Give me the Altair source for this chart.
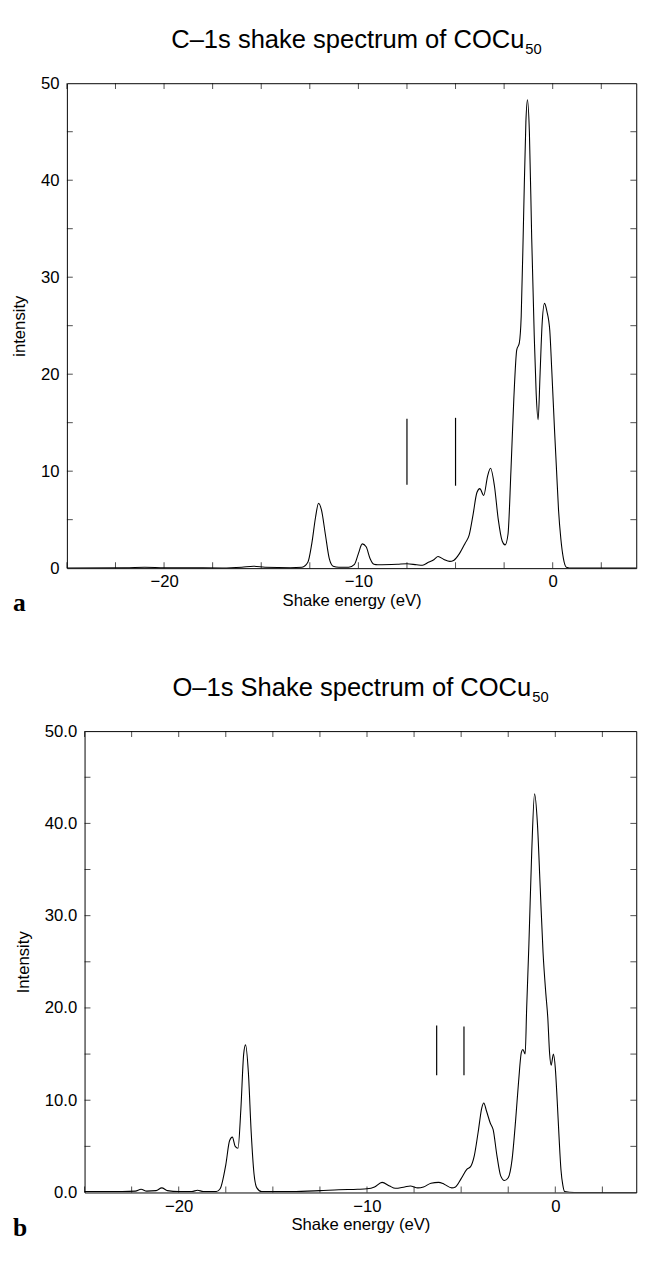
import altair as alt
import pandas as pd

FONT = "Liberation Sans"

# ---------------- panel a : C-1s ----------------
a_energy = [-25.0, -22.0, -21.0, -20.0, -18.0, -17.0, -16.0, -15.4, -14.8, -13.5,
            -12.9, -12.6, -12.4, -12.2, -12.05, -11.9, -11.7, -11.5, -11.3, -11.0,
            -10.5, -10.2, -10.0, -9.8, -9.6, -9.4, -9.2, -9.0, -8.0, -7.5,
            -7.0, -6.7, -6.4, -6.1, -5.9, -5.6, -5.3, -5.1, -4.8, -4.5,
            -4.3, -4.1, -3.9, -3.75, -3.55, -3.35, -3.2, -3.0, -2.8, -2.6,
            -2.45, -2.3, -2.15, -2.0, -1.85, -1.72, -1.62, -1.5, -1.38, -1.3,
            -1.2, -1.08, -0.95, -0.85, -0.75, -0.65, -0.55, -0.42, -0.3, -0.15,
            -0.05, 0.1, 0.2, 0.3, 0.42, 0.55, 0.7, 1.0, 5.0]
a_intensity = [0.02, 0.03, 0.1, 0.05, 0.03, 0.02, 0.1, 0.2, 0.1, 0.05,
               0.1, 0.6, 2.5, 5.3, 6.7, 6.0, 3.5, 1.0, 0.2, 0.1,
               0.1, 0.4, 1.5, 2.5, 2.2, 1.0, 0.4, 0.35, 0.4, 0.45,
               0.35, 0.3, 0.6, 0.9, 1.2, 0.9, 0.7, 0.8, 1.5, 2.6,
               3.4, 5.5, 7.8, 8.2, 7.5, 9.5, 10.3, 8.5, 5.0, 2.8,
               2.4, 3.5, 10.0, 17.5, 22.5, 23.2, 26.0, 36.0, 46.0, 48.3,
               45.0, 34.0, 24.0, 18.0, 15.3, 20.0, 25.0, 27.3, 26.5, 24.5,
               20.5, 14.0, 10.0, 6.0, 3.0, 1.0, 0.1, 0.0, 0.0]
a_marker_x = [-7.5, -5.0]
a_marker_lo = [8.6, 8.5]
a_marker_hi = [15.4, 15.5]

# ---------------- panel b : O-1s ----------------
b_energy = [-25.0, -23.0, -22.3, -22.0, -21.7, -21.2, -20.9, -20.6, -20.0, -19.3,
            -19.0, -18.7, -18.0, -17.8, -17.5, -17.3, -17.15, -17.0, -16.85, -16.7,
            -16.55, -16.45, -16.3, -16.15, -16.0, -15.85, -15.6, -14.0, -12.5, -11.5,
            -10.5, -10.0, -9.6, -9.2, -8.8, -8.5, -8.0, -7.7, -7.3, -7.0,
            -6.6, -6.2, -5.9, -5.5, -5.3, -5.0, -4.7, -4.5, -4.3, -4.1,
            -3.9, -3.8, -3.65, -3.45, -3.3, -3.1, -2.9, -2.7, -2.5, -2.3,
            -2.1, -1.95, -1.8, -1.72, -1.6, -1.52, -1.4, -1.25, -1.1, -0.95,
            -0.8, -0.65, -0.5, -0.4, -0.3, -0.22, -0.1, 0.0, 0.1, 0.2,
            0.3, 0.4, 0.5, 1.0, 5.0]
b_intensity = [0.1, 0.1, 0.15, 0.35, 0.15, 0.2, 0.5, 0.2, 0.1, 0.1,
               0.25, 0.1, 0.1, 0.4, 3.0, 5.6, 6.0, 5.0, 4.8, 9.0,
               15.0, 16.0, 13.0, 6.5, 2.0, 0.5, 0.1, 0.1, 0.2, 0.3,
               0.35, 0.4, 0.6, 1.1, 0.7, 0.45, 0.6, 0.7, 0.5, 0.6,
               1.0, 1.1, 0.9, 0.5, 0.6, 1.5, 2.5, 2.8, 4.0, 6.5,
               9.2, 9.7, 8.8, 7.5, 6.8, 4.0, 1.8, 1.3, 1.6, 3.5,
               8.0, 12.0, 15.2, 15.5, 15.0, 20.0, 27.0, 37.0, 43.2, 40.0,
               33.0, 26.0, 21.5, 19.0, 15.0, 13.8, 15.0, 13.5, 10.0, 6.0,
               2.5, 0.8, 0.1, 0.0, 0.0]
b_marker_x = [-6.3, -4.85]
b_marker_lo = [12.7, 12.7]
b_marker_hi = [18.1, 18.0]

# ---------------- axes ----------------
x_label_values = [-20, -10, 0]
x_tick_values = [-25, -22.5, -20, -17.5, -15, -12.5, -10, -7.5, -5, -2.5, 0, 2.5]
y_label_values = [0, 10, 20, 30, 40, 50]
y_tick_values = [5, 10, 15, 20, 25, 30, 35, 40, 45]


def panel(energy, inten, mx, mlo, mhi, W, H, xl, xmax, ytitle, yfmt,
          title_main, title_end_x, letter, letter_x):
    df = pd.DataFrame({"E": energy, "I": inten})
    xs = alt.Scale(domain=[-25, xmax], range=[xl, W], nice=False, zero=False)
    ys = alt.Scale(domain=[0, 50], nice=False, zero=False)
    lab = dict(labelFont=FONT, labelFontSize=17, labelColor="black",
               titleFont=FONT, titleFontSize=17, titleFontWeight="normal",
               titleColor="black", grid=False, domain=True,
               domainColor="black", domainWidth=1)

    line = alt.Chart(df).mark_line(
        color="black", strokeWidth=1.1, interpolate="monotone", clip=True
    ).encode(
        x=alt.X("E:Q", scale=xs, axis=alt.Axis(
            orient="bottom", values=x_label_values, format="d", ticks=False,
            labelPadding=6, title="Shake energy (eV)", titlePadding=3, **lab)),
        y=alt.Y("I:Q", scale=ys, axis=alt.Axis(
            orient="left", offset=-xl, values=y_label_values, format=yfmt,
            ticks=False, labelPadding=8, title=ytitle, titlePadding=12, **lab)),
    )

    frame_kw = dict(labels=False, ticks=False, grid=False, domain=True,
                    domainColor="black", domainWidth=1, title=None,
                    minExtent=0, maxExtent=0)
    frame = alt.Chart(df).mark_line(opacity=0).encode(
        x=alt.X("E:Q", scale=xs, axis=alt.Axis(orient="top", **frame_kw)),
        y=alt.Y("I:Q", scale=ys, axis=alt.Axis(orient="right", **frame_kw)),
    )

    # inward-pointing frame ticks
    xt = pd.DataFrame({"v": x_tick_values})
    yt = pd.DataFrame({"v": y_tick_values})
    tk = dict(color="black", size=6, thickness=1)
    xt_bottom = alt.Chart(xt).mark_tick(**tk).encode(
        x=alt.X("v:Q", scale=xs, axis=None), y=alt.value(H - 3))
    xt_top = alt.Chart(xt).mark_tick(**tk).encode(
        x=alt.X("v:Q", scale=xs, axis=None), y=alt.value(3))
    yt_left = alt.Chart(yt).mark_tick(**tk).encode(
        y=alt.Y("v:Q", scale=ys, axis=None), x=alt.value(xl + 3))
    yt_right = alt.Chart(yt).mark_tick(**tk).encode(
        y=alt.Y("v:Q", scale=ys, axis=None), x=alt.value(W - 3))

    mdf = pd.DataFrame({"E": mx, "lo": mlo, "hi": mhi})
    markers = alt.Chart(mdf).mark_rule(color="black", strokeWidth=1.2).encode(
        x=alt.X("E:Q", scale=xs, axis=None),
        y=alt.Y("lo:Q", scale=ys, axis=None),
        y2="hi:Q")

    tdf = pd.DataFrame({"t": [title_main], "s": ["50"], "l": [letter]})
    title = alt.Chart(tdf).mark_text(
        font=FONT, fontSize=26, align="right", baseline="alphabetic", color="black"
    ).encode(x=alt.value(title_end_x), y=alt.value(-36), text="t:N")
    sub = alt.Chart(tdf).mark_text(
        font=FONT, fontSize=15, align="left", baseline="alphabetic", color="black"
    ).encode(x=alt.value(title_end_x + 1), y=alt.value(-30), text="s:N")
    let = alt.Chart(tdf).mark_text(
        font="Liberation Serif", fontSize=26, fontWeight="bold", align="left",
        baseline="alphabetic", color="black"
    ).encode(x=alt.value(letter_x), y=alt.value(H + 44), text="l:N")

    return alt.layer(line, frame, xt_bottom, xt_top, yt_left, yt_right, markers,
                     title, sub, let).resolve_axis(
        x="independent", y="independent"
    ).properties(width=W, height=H)


pa = panel(a_energy, a_intensity, a_marker_x, a_marker_lo, a_marker_hi,
           580, 494, 0, 4.3, "intensity", "d",
           "C\u20131s shake spectrum of COCu", 466, "a", -55)
pb = panel(b_energy, b_intensity, b_marker_x, b_marker_lo, b_marker_hi,
           580, 470, 18, 4.3, "Intensity", ".1f",
           "O\u20131s Shake spectrum of COCu", 473, "b", -55)

chart = alt.vconcat(pa, pb, spacing=60).properties(
    padding={"top": 8, "left": 3, "right": 0, "bottom": 0}
).configure_view(strokeWidth=0)

chart.save("out.html", embed_options={"renderer": "svg", "actions": False})
